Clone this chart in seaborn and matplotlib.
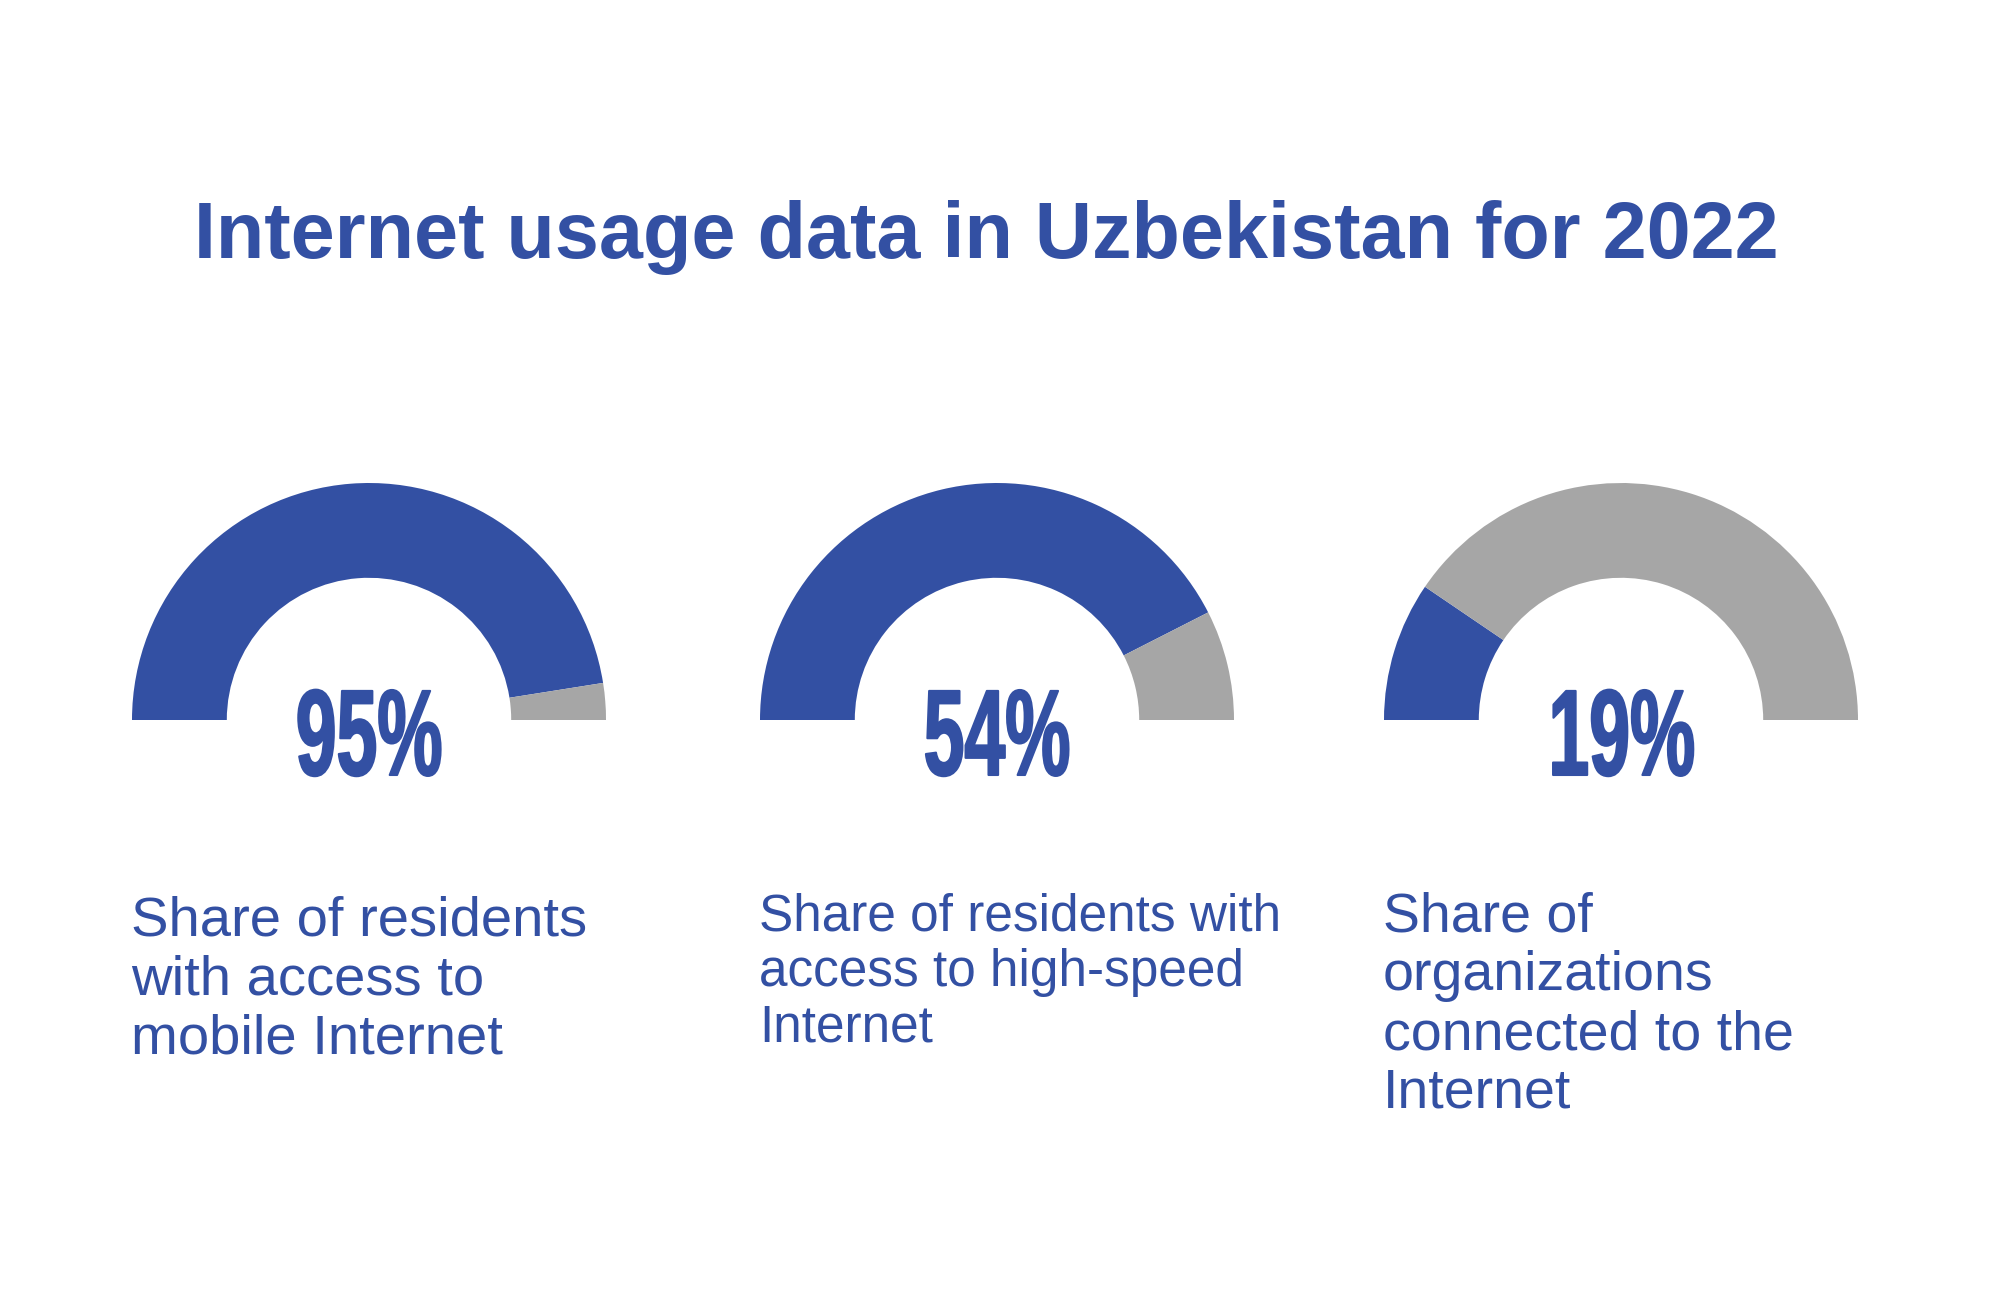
import numpy as np
import pandas as pd
import matplotlib
matplotlib.use("Agg")
import matplotlib.pyplot as plt
from matplotlib.patheffects import AbstractPathEffect
from matplotlib.transforms import Affine2D
import seaborn as sns

# data
arc_fill = [95, 85, 19]          # share of the arc drawn blue
labels = ["95%", "54%", "19%"]
captions = [
    "Share of residents\nwith access to\nmobile Internet",
    "Share of residents with\naccess to high-speed\nInternet",
    "Share of\norganizations\nconnected to the\nInternet",
]
title = "Internet usage data in Uzbekistan for 2022"

gauges = pd.DataFrame({"fill": arc_fill, "label": labels, "caption": captions})

sns.set_style("white")
plt.rcParams['font.family'] = ['Liberation Sans', 'DejaVu Sans']

BLUE = "#3350a3"
GREY = "#a6a6a6"


class Condense(AbstractPathEffect):
    """Squeeze glyphs horizontally around their centre and thicken them a bit."""

    def __init__(self, sx, stroke=0.0):
        super().__init__()
        self.sx = sx
        self.stroke = stroke

    def draw_path(self, renderer, gc, tpath, affine, rgbFace=None):
        ext = tpath.get_extents()
        xc = (ext.x0 + ext.x1) / 2
        squeeze = Affine2D().translate(-xc, 0).scale(self.sx, 1).translate(xc, 0)
        gc0 = renderer.new_gc()
        gc0.copy_properties(gc)
        if self.stroke and rgbFace is not None:
            gc0.set_linewidth(self.stroke)
            gc0.set_foreground(rgbFace)
        renderer.draw_path(gc0, tpath, squeeze + affine, rgbFace)
        gc0.restore()


W, H = 2000, 1300
fig = plt.figure(figsize=(W / 100, H / 100), dpi=100)
fig.patch.set_facecolor("white")

fig.text(986 / W, 1 - 258 / H, title, ha='center', va='baseline',
         fontsize=57, fontweight='bold', color=BLUE)

centers_x = [369, 997, 1621]    # px
base_y = 720                    # px from top
radius_px = 237
lim = 1.2
box = 2 * lim * radius_px
caption_x = [131, 759, 1383]
caption_last = [1053, 1041, 1108]   # baseline of the last line, px from top
caption_size = [40.5, 37, 40]

for i, row in gauges.iterrows():
    cx = centers_x[i]
    ax = fig.add_axes([(cx - box / 2) / W, (H - base_y - box / 2) / H, box / W, box / H])
    # the lower half of the pie is left blank so only the gauge arc shows
    ax.pie([row.fill, 100 - row.fill, 100], colors=[BLUE, GREY, "none"],
           startangle=180, counterclock=False,
           wedgeprops=dict(width=0.4, linewidth=0))
    ax.set_xlim(-lim, lim)
    ax.set_ylim(-lim, lim)
    ax.set_axis_off()
    ax.text(0, -55 / radius_px, row.label, ha='center', va='baseline',
            fontsize=88, fontweight='bold', color=BLUE,
            path_effects=[Condense(0.6, stroke=1.5)])

    fig.text(caption_x[i] / W, 1 - caption_last[i] / H, row.caption,
             ha='left', va='baseline', fontsize=caption_size[i], color=BLUE,
             linespacing=1.17)

fig.savefig("out.png", dpi=100, facecolor="white")
